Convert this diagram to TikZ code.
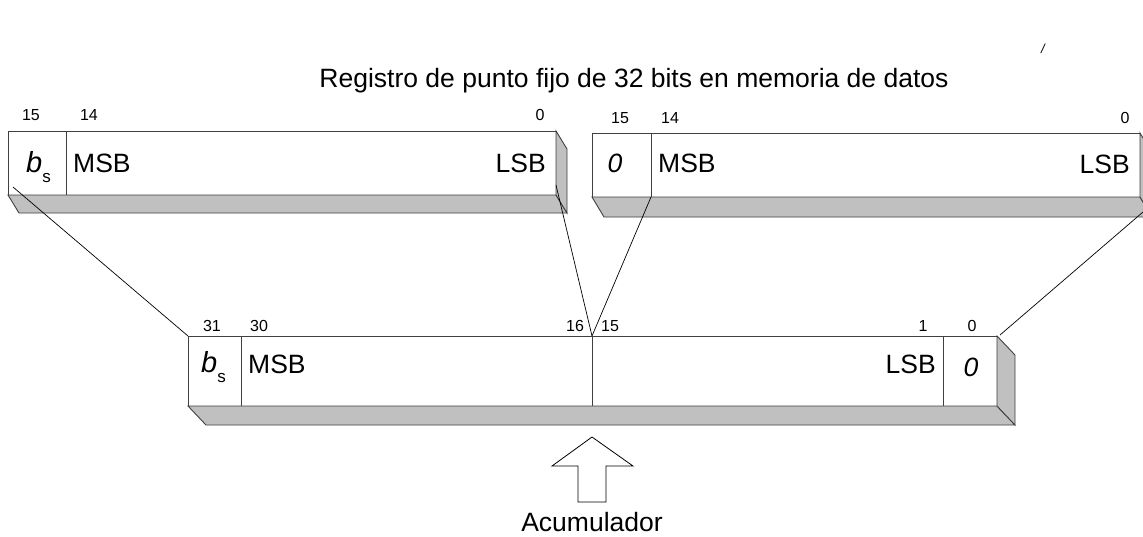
\documentclass[tikz,border=0pt]{standalone}
\usepackage{fontspec}
\setmainfont{Liberation Sans}
\definecolor{sidegray}{RGB}{192,192,192}
\definecolor{edge}{RGB}{64,64,64}
\newcommand{\regbox}[6]{%
  \filldraw[face] (#1,#2) rectangle (#3,#4);
  \filldraw[side] (#1,#4) -- (#3,#4) -- (#3+#5,#4+#6) -- (#1+#5,#4+#6) -- cycle;
  \filldraw[side] (#3,#2) -- (#3+#5,#2+#6) -- (#3+#5,#4+#6) -- (#3,#4) -- cycle;
}
\newcommand{\bsign}{{\fontsize{29}{29}\selectfont\itshape b}\raisebox{-10pt}{\fontsize{17}{17}\selectfont s}}
\begin{document}
\begin{tikzpicture}[x=1pt,y=-1pt,
  face/.style={draw=edge, line width=0.9pt, fill=white},
  side/.style={draw=edge, line width=0.9pt, fill=sidegray},
  divider/.style={draw=edge, line width=0.9pt},
  link/.style={draw=black, line width=0.7pt},
  bitnum/.style={font=\fontsize{16}{16}\selectfont, inner sep=0pt, anchor=base},
  big/.style={font=\fontsize{26.5}{26.5}\selectfont, inner sep=0pt},
  hollowarrow/.style={draw=black, line width=0.8pt, fill=white}]
\useasboundingbox (0,0) rectangle (1143,536);
% title
\node[big, anchor=base] (title) at (634,87) {Registro de punto fijo de 32 bits en memoria de datos};
\node[inner sep=0pt, anchor=base, font=\fontsize{13}{13}\selectfont\itshape] (mark) at (1043,53) {/};
% top-left register
\regbox{8}{131}{556}{195}{11}{18}
\draw[divider] (66,131) -- (66,195);
\node[bitnum] (tl15) at (31,120) {15};
\node[bitnum] (tl14) at (89,120) {14};
\node[bitnum] (tl0) at (540,120) {0};
\node[anchor=base west, inner sep=0pt] (tlbs) at (26,172) {\bsign};
\node[big, anchor=base west] (tlmsb) at (73,172) {MSB};
\node[big, anchor=base east] (tllsb) at (546,172) {LSB};
% top-right register
\regbox{592}{133}{1140}{197}{12}{20}
\draw[divider] (651,133) -- (651,197);
\node[bitnum] (tr15) at (620,123) {15};
\node[bitnum] (tr14) at (670,123) {14};
\node[bitnum] (tr0) at (1125,123) {0};
\node[big, anchor=base] (trzero) at (615,172) {\itshape 0};
\node[big, anchor=base west] (trmsb) at (658,172) {MSB};
\node[big, anchor=base east] (trlsb) at (1130,173) {LSB};
% accumulator register
\regbox{188}{336}{997}{406}{18}{19}
\draw[divider] (241,336) -- (241,406);
\draw[divider] (592,336) -- (592,406);
\draw[divider] (943,336) -- (943,406);
\node[bitnum] (b31) at (212,331) {31};
\node[bitnum] (b30) at (259,331) {30};
\node[bitnum] (b16) at (575,331) {16};
\node[bitnum] (b15) at (610,331) {15};
\node[bitnum] (b1) at (923,331) {1};
\node[bitnum] (b0) at (972,331) {0};
\node[anchor=base west, inner sep=0pt] (bbs) at (201,372) {\bsign};
\node[big, anchor=base west] (bmsb) at (248,373) {MSB};
\node[big, anchor=base east] (blsb) at (936,373) {LSB};
\node[big, anchor=base] (bzero) at (971,376) {\itshape 0};
% link coordinates
\coordinate (tlA) at (13,187);
\coordinate (tlB) at (556,185);
\coordinate (trA) at (651,197);
\coordinate (trB) at (1143,212);
\coordinate (accL) at (188,336);
\coordinate (accM) at (592,336);
\coordinate (accR) at (1000,335);
\draw[link] (tlA) -- (accL);
\draw[link] (tlB) -- (accM);
\draw[link] (trA) -- (accM);
\draw[link] (trB) -- (accR);
% arrow
\filldraw[hollowarrow] (592,437) -- (633,466) -- (606,466) -- (606,502) -- (578,502) -- (578,466) -- (552,466) -- cycle;
\node[big, anchor=base] (acc) at (592,531) {Acumulador};
\end{tikzpicture}
\end{document}
